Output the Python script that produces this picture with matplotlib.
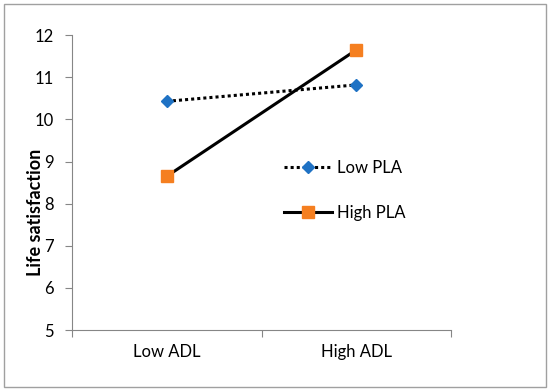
import matplotlib
matplotlib.use("Agg")
import matplotlib.pyplot as plt
from matplotlib.patches import Rectangle

# data
categories = ["Low ADL", "High ADL"]
low_pla = [10.43, 10.82]
high_pla = [8.65, 11.65]
y_ticks = [5, 6, 7, 8, 9, 10, 11, 12]

plt.rcParams['font.family'] = ['Lato', 'DejaVu Sans']

fig = plt.figure(figsize=(5.5, 3.91), dpi=100)
ax = fig.add_axes([0.131, 0.156, 0.689, 0.754])

x = [0.5, 1.5]
ax.plot(x, low_pla, color="black", linestyle=(0, (1, 1)), linewidth=2.2,
        marker="D", markersize=6.5, markerfacecolor="#1f72c4",
        markeredgecolor="#1f72c4", label="Low PLA")
ax.plot(x, high_pla, color="black", linestyle="-", linewidth=2.2,
        marker="s", markersize=8.5, markerfacecolor="#f57f20",
        markeredgecolor="#f57f20", label="High PLA")

ax.set_xlim(0, 2)
ax.set_ylim(5, 12)
ax.set_yticks(y_ticks)
ax.set_xticks([0, 1, 2])
ax.set_xticklabels([])
ax.set_xticks(x, minor=True)
ax.set_xticklabels(categories, minor=True)
ax.tick_params(axis="x", which="minor", length=0, pad=10, labelsize=12)
ax.tick_params(axis="x", which="major", length=5, color="#868686")
ax.tick_params(axis="y", length=5, color="#868686", labelsize=12, pad=8)

for s in ["top", "right"]:
    ax.spines[s].set_visible(False)
for s in ["left", "bottom"]:
    ax.spines[s].set_color("#868686")

ax.set_ylabel("Life satisfaction", fontsize=13, fontweight="bold")
ax.yaxis.set_label_coords(-0.075, 0.4)

ax.legend(loc="upper left", bbox_to_anchor=(0.52, 0.628), frameon=False,
          fontsize=12, handlelength=2.9, labelspacing=1.75, handletextpad=0.3)

fig.patches.append(Rectangle((0.007, 0.01), 0.986, 0.98, transform=fig.transFigure,
                             fill=False, edgecolor="#a0a0a0", linewidth=1))

fig.savefig("out.png", dpi=100)
